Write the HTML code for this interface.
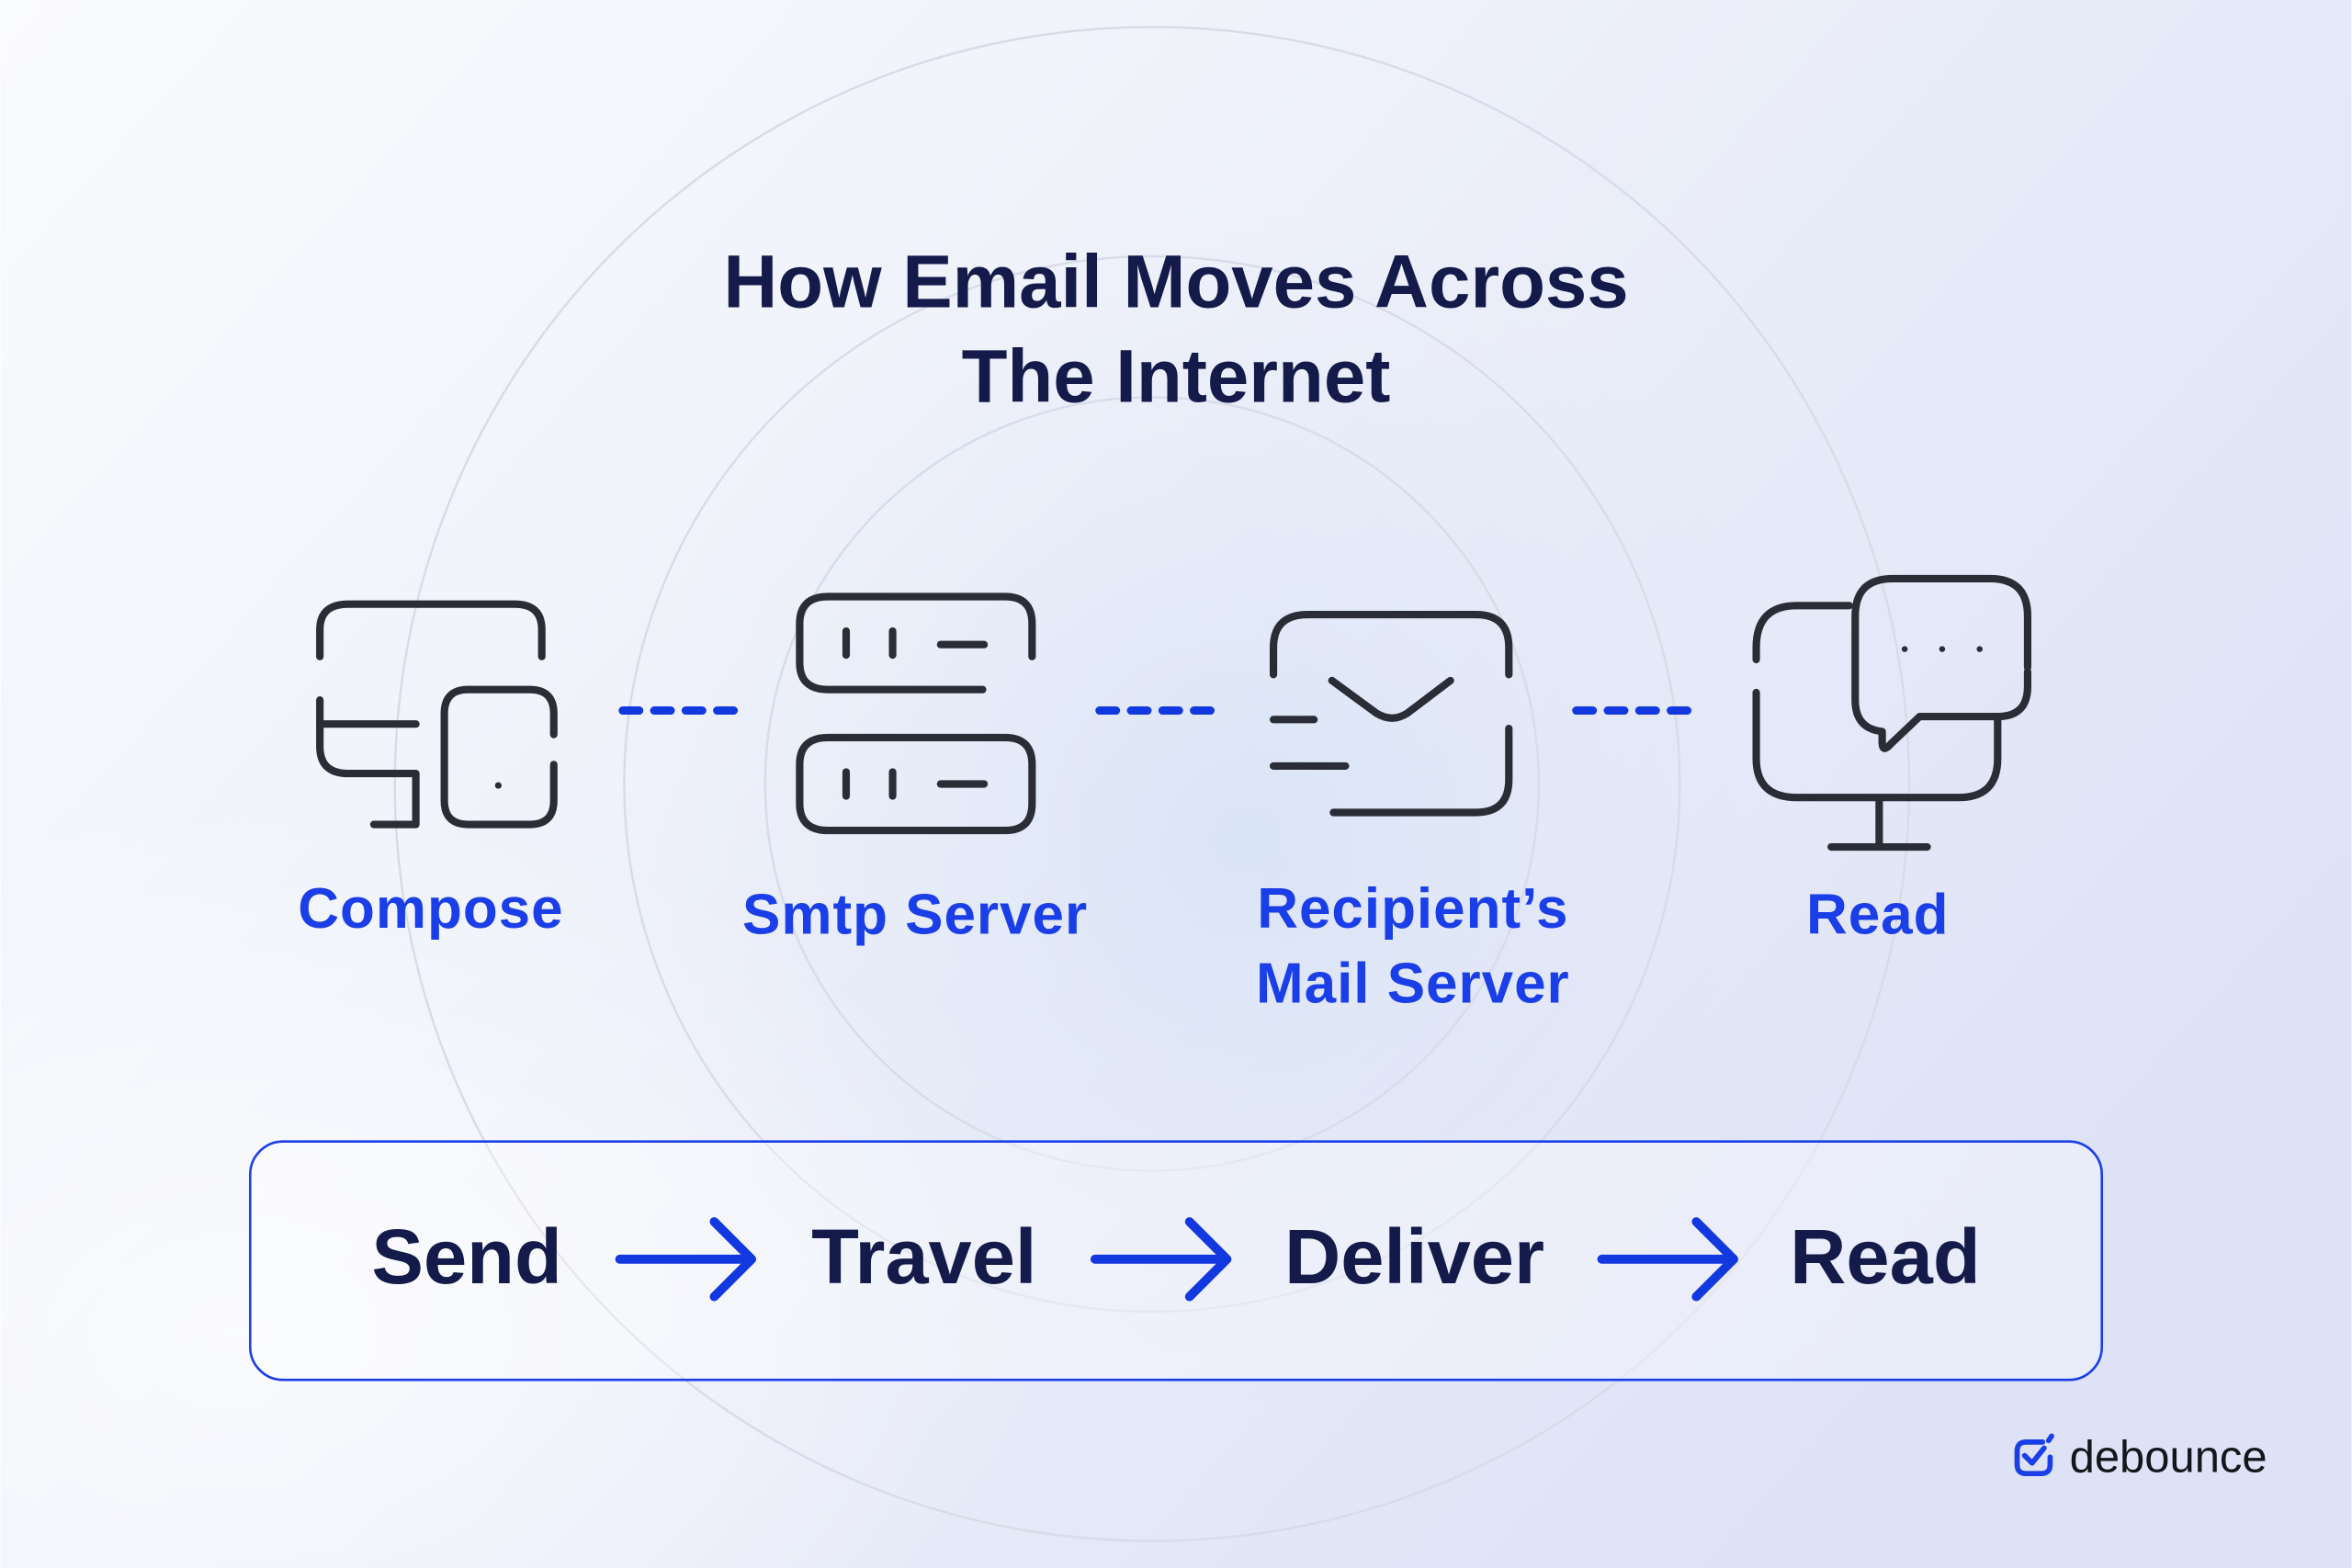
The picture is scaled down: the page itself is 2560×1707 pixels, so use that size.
<!DOCTYPE html>
<html><head><meta charset="utf-8"><style>
html,body{margin:0;padding:0;width:2560px;height:1707px;overflow:hidden}
svg{display:block}
text{font-family:"Liberation Sans",sans-serif}
</style></head><body>
<svg width="2560" height="1707" viewBox="0 0 1568 1046" xmlns="http://www.w3.org/2000/svg">
<defs>
<linearGradient id="bg" x1="0" y1="0" x2="1" y2="0.6">
<stop offset="0" stop-color="#fafbfd"/>
<stop offset="0.45" stop-color="#eef1fa"/>
<stop offset="1" stop-color="#dde2f6"/>
</linearGradient>
<radialGradient id="glow" cx="0.55" cy="0.5" r="0.5">
<stop offset="0" stop-color="#d6e2f6" stop-opacity="0.8"/>
<stop offset="1" stop-color="#e4e9f8" stop-opacity="0"/>
</radialGradient>
<radialGradient id="wh" cx="0.1" cy="0.85" r="0.35">
<stop offset="0" stop-color="#ffffff" stop-opacity="0.7"/>
<stop offset="1" stop-color="#ffffff" stop-opacity="0"/>
</radialGradient>
</defs>
<rect width="1568" height="1046" fill="url(#bg)"/>
<rect width="1568" height="1046" fill="url(#wh)"/>
<circle cx="790" cy="560" r="420" fill="url(#glow)"/>
<g fill="none" stroke="#d8dce8" stroke-width="1.5">
<circle cx="768" cy="523" r="505"/>
<circle cx="768" cy="523" r="352"/>
<circle cx="768" cy="523" r="258"/>
</g>
<g font-weight="700" fill="#141a4a" font-size="50" text-anchor="middle">
<text x="784" y="205">How Email Moves Across</text>
<text x="784" y="268">The Internet</text>
</g>
<g fill="none" stroke="#2a2d35" stroke-width="5" stroke-linecap="round" stroke-linejoin="round">
<path d="M213 438 V420 Q213 403 232 403 H343 Q361 403 361 420 V438"/>
<path d="M213 467 V498 Q213 516 232 516 H277 V550 H249"/>
<path d="M213 483 H277"/>
<path d="M369 490 V476 Q369 460 353 460 H312 Q296 460 296 476 V534 Q296 550 312 550 H353 Q369 550 369 534 V510"/>
<path d="M688 438 V416 Q688 398 670 398 H552 Q533 398 533 416 V442 Q533 460 552 460 H655"/>
<path d="M552 492 H670 Q688 492 688 510 V536 Q688 554 670 554 H552 Q533 554 533 536 V510 Q533 492 552 492Z"/>
<path d="M564 421 V437 M595 421 V437 M627 430 H656 M564 515 V531 M595 515 V531 M627 523 H656"/>
<path d="M849 450 V432 Q849 410 872 410 H984 Q1006 410 1006 432 V450"/>
<path d="M1006 486 V520 Q1006 542 984 542 H889"/>
<path d="M888 454 L918 476 Q928 482 938 476 L967 454"/>
<path d="M849 480 H876 M849 511 H897"/>
<path d="M1171 440 V432 Q1171 404 1198 404 H1233"/>
<path d="M1171 462 V506 Q1171 532 1198 532 H1306 Q1332 532 1332 506 V480"/>
<path d="M1253 532 V565 M1221 565 H1285"/>
<path d="M1352 445 V411 Q1352 386 1327 386 H1262 Q1237 386 1237 411 V467 Q1237 486 1255 488 V495 Q1255 503 1261 496 L1280 478 H1332 Q1352 478 1352 458 V448"/>
</g>
<g fill="#2a2d35"><circle cx="332" cy="524" r="2.2"/><circle cx="1270" cy="433" r="2"/><circle cx="1295" cy="433" r="2"/><circle cx="1320" cy="433" r="2"/></g>
<g stroke="#1238e0" stroke-width="5.5" stroke-linecap="round" stroke-dasharray="11 10">
<path d="M415 474 H490 M733 474 H808 M1051 474 H1126"/>
</g>
<g font-weight="700" fill="#1a3ee8" font-size="38" text-anchor="middle" letter-spacing="0.6">
<text x="287" y="619">Compose</text>
<text x="610" y="623">Smtp Server</text>
<text x="942" y="619">Recipient’s</text>
<text x="942" y="669">Mail Server</text>
<text x="1252" y="623">Read</text>
</g>
<rect x="166.5" y="761.5" width="1235" height="159" rx="22" fill="#ffffff" fill-opacity="0.35" stroke="#1a3ee8" stroke-width="1.6"/>
<g font-weight="700" fill="#141a4a" font-size="52" text-anchor="middle">
<text x="311" y="856">Send</text>
<text x="616" y="856">Travel</text>
<text x="943" y="856">Deliver</text>
<text x="1257" y="856">Read</text>
</g>
<g fill="none" stroke="#1238e0" stroke-width="6" stroke-linecap="round" stroke-linejoin="round">
<path d="M413 840 H500 M476 815 L501 840 L476 865"/>
<path d="M730 840 H817 M793 815 L818 840 L793 865"/>
<path d="M1068 840 H1155 M1131 815 L1156 840 L1131 865"/>
</g>
<g fill="none" stroke="#1a3ee8" stroke-width="3.5" stroke-linecap="round" stroke-linejoin="round">
<path d="M1362 962 H1351 Q1345 962 1345 968 V977 Q1345 983 1351 983 H1361 Q1367 983 1367 977 V972"/>
<path d="M1350 971 L1355 976 L1363 966 M1366 961 L1368 958"/>
</g>
<text x="1380" y="982" font-size="30" fill="#14161c" font-weight="400">debounce</text>
</svg>
</body></html>
